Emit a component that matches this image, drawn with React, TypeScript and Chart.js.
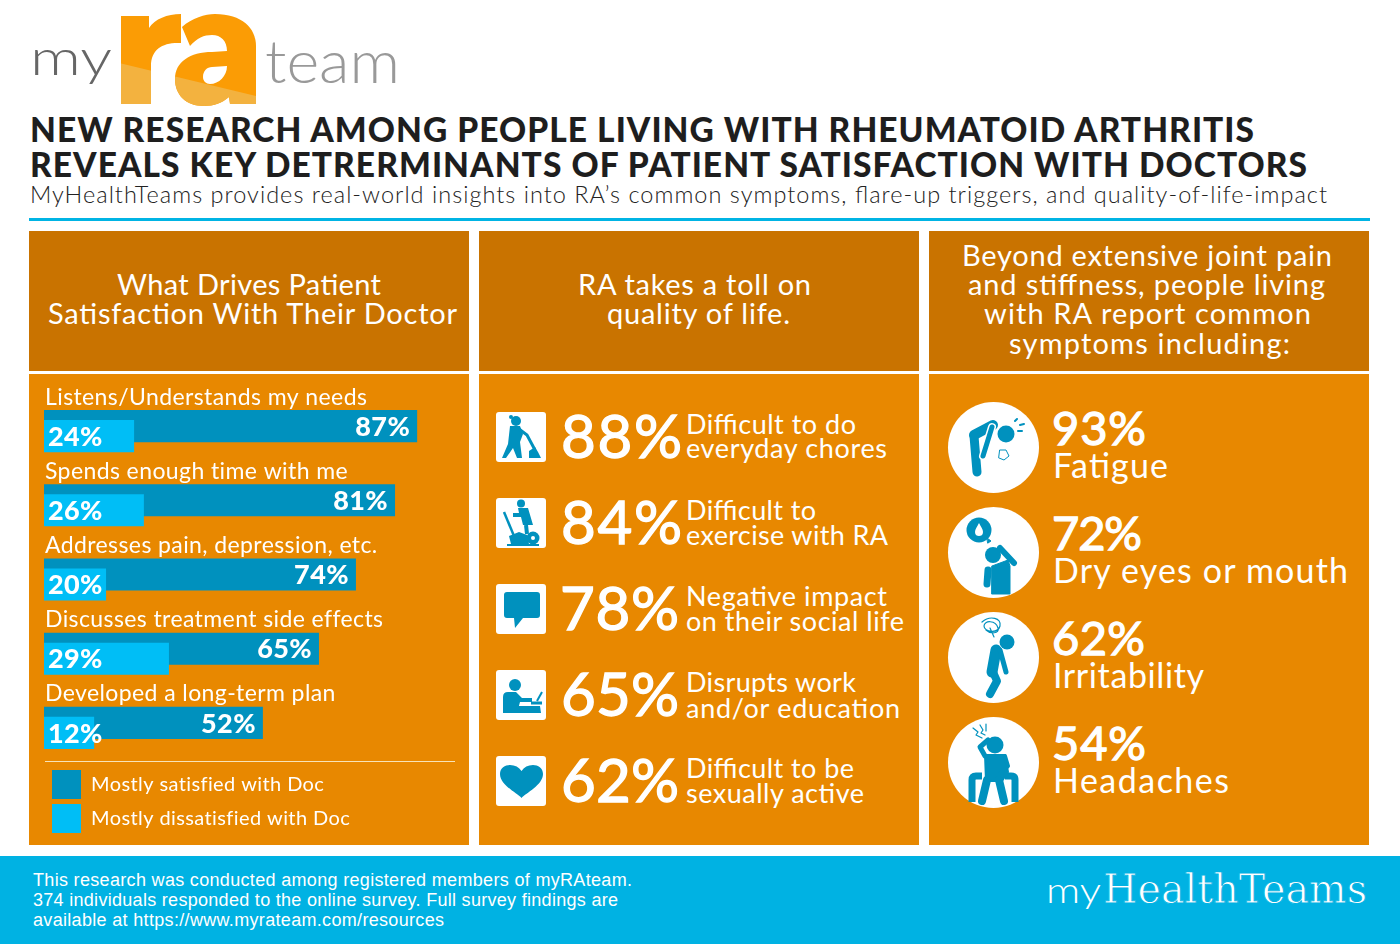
import React, { useEffect, useRef } from "react";
import { Chart, registerables } from "chart.js";

Chart.register(...registerables);

// Chart data: bar lengths are read from the picture's drawn extents (the infographic's bars
// are hand placed and not strictly proportional to their printed percentages), so the
// printed percentages are kept apart as labels.
const categories = [
  "Listens/Understands my needs",
  "Spends enough time with me",
  "Addresses pain, depression, etc.",
  "Discusses treatment side effects",
  "Developed a long-term plan",
];
const satisfiedBars = [87.8, 82.6, 73.4, 64.7, 51.5];
const dissatisfiedBars = [21.2, 23.5, 14.6, 29.4, 11.8];
const satisfiedLabels = ["87%", "81%", "74%", "65%", "52%"];
const dissatisfiedLabels = ["24%", "26%", "20%", "29%", "12%"];
const seriesNames = ["Mostly satisfied with Doc", "Mostly dissatisfied with Doc"];

const SAT = "#0091BE";
const DIS = "#00BEF6";
const FOOT = "#00B2E3";
const FONT = "Lato, 'Noto Sans', sans-serif";

type T = [string, number, number, number]; // text, x, end x, baseline

const headerLines: T[] = [
  ["What Drives Patient", 117, 381, 295],
  ["Satisfaction With Their Doctor", 48, 457, 324],
  ["RA takes a toll on", 578, 811, 295],
  ["quality of life.", 607, 790, 324],
  ["Beyond extensive joint pain", 962, 1332, 266],
  ["and stiffness, people living", 968, 1325, 295],
  ["with RA report common", 984, 1311, 324],
  ["symptoms including:", 1009, 1290, 354],
];
const qualityPct: T[] = [
  ["88%", 561, 682, 458],
  ["84%", 561, 682, 544],
  ["78%", 560, 679, 630],
  ["65%", 561, 679, 716],
  ["62%", 561, 679, 802],
];
const qualityText: T[] = [
  ["Difficult to do", 686, 856, 434],
  ["everyday chores", 686, 887, 458],
  ["Difficult to", 686, 816, 520],
  ["exercise with RA", 686, 888, 545],
  ["Negative impact", 686, 887, 606],
  ["on their social life", 686, 904, 631],
  ["Disrupts work", 686, 856, 692],
  ["and/or education", 686, 900, 718],
  ["Difficult to be", 686, 854, 778],
  ["sexually active", 686, 864, 803],
];
const symptomPct: T[] = [
  ["93%", 1052, 1146, 445],
  ["72%", 1052, 1142, 550],
  ["62%", 1052, 1145, 655],
  ["54%", 1052, 1146, 760],
];
const symptomText: T[] = [
  ["Fatigue", 1053, 1168, 478],
  ["Dry eyes or mouth", 1053, 1348, 583],
  ["Irritability", 1053, 1204, 688],
  ["Headaches", 1053, 1229, 793],
];
const footerLines: T[] = [
  ["This research was conducted among registered members of myRAteam.", 33, 632, 886],
  ["374 individuals responded to the online survey. Full survey findings are", 33, 618, 906],
  ["available at https://www.myrateam.com/resources", 33, 444, 926],
];
const iconTops = [412, 498, 584, 670, 756];
const circleYs = [447.5, 552.5, 657.5, 762.5];

function Txt({ t, size, weight = 400, fill = "#fff", family = FONT, glyphs = false, stroke, strokeWidth }: { t: T; size: number; weight?: number; fill?: string; family?: string; glyphs?: boolean; stroke?: string; strokeWidth?: number }) {
  return (
    <text x={t[1]} y={t[3]} textLength={t[2] - t[1]} lengthAdjust={glyphs ? "spacingAndGlyphs" : "spacing"} fontSize={size} fontWeight={weight} fill={fill} fontFamily={family} stroke={stroke} strokeWidth={strokeWidth}>
      {t[0]}
    </text>
  );
}

const percentPlugin = {
  id: "percentLabels",
  afterLayout(chart: any) {
    chart.legend.left += 3;
  },
  beforeDraw(chart: any) {
    chart.ctx.letterSpacing = "0.4px";
  },
  afterDatasetsDraw(chart: any) {
    const ctx = chart.ctx;
    ctx.save();
    ctx.fillStyle = "#fff";
    ctx.font = `900 27px ${FONT}`;
    ctx.textBaseline = "middle";
    chart.getDatasetMeta(0).data.forEach((bar: any, i: number) => {
      ctx.textAlign = "right";
      ctx.fillText(satisfiedLabels[i], bar.x - 7, bar.y + 1);
    });
    chart.getDatasetMeta(1).data.forEach((bar: any, i: number) => {
      ctx.textAlign = "left";
      ctx.fillText(dissatisfiedLabels[i], bar.base + 4, bar.y + 1);
    });
    ctx.restore();
  },
};

function BarsChart() {
  const ref = useRef<HTMLCanvasElement>(null);
  useEffect(() => {
    const chart = new Chart(ref.current!, {
      type: "bar",
      data: {
        labels: categories,
        datasets: [
          { label: seriesNames[0], data: satisfiedBars, backgroundColor: SAT, borderWidth: 0, order: 1 },
          { label: seriesNames[1], data: dissatisfiedBars, backgroundColor: DIS, borderWidth: 0, order: 0 },
        ],
      },
      plugins: [percentPlugin],
      options: {
        animation: false,
        responsive: false,
        indexAxis: "y",
        // Slots of 10px widened to 32px make the series overlap with a 10px step; the negative
        // signs put the series drawn on top (order 0) on the lower side of each category.
        categoryPercentage: -20 / 74,
        barPercentage: -3.2,
        layout: { padding: { left: 15, right: 0, top: 20, bottom: 2 } },
        scales: {
          x: { display: false, min: 0, max: 100 },
          y: {
            afterFit: (s: any) => { s.width = 0; },
            grid: { display: false, drawTicks: false },
            border: { display: false },
            ticks: {
              mirror: true,
              padding: 1,
              labelOffset: -34,
              autoSkip: false,
              color: "#fff",
              font: { family: FONT, size: 23, weight: "400" },
            },
          },
        },
        plugins: {
          tooltip: { enabled: false },
          title: { display: false },
          legend: {
            position: "bottom",
            align: "start",
            labels: {
              boxWidth: 29,
              boxHeight: 29,
              padding: 5,
              color: "#fff",
              font: { family: FONT, size: 20, weight: "400" },
              sort: (a: any, b: any) => a.datasetIndex - b.datasetIndex,
            },
          },
        },
      } as any,
    });
    return () => chart.destroy();
  }, []);
  return <canvas ref={ref} width={440} height={471} style={{ position: "absolute", left: 29, top: 374, display: "block" }} />;
}

function Logo() {
  const r = "M121,16 L149,16 L149,28 C155,19 167,14 181,14 L181,43 C163,42 151,49 151,66 L151,104 L121,104 Z";
  const a = "M182,27 C192,18 205,14 215,14 C242,14 256,28 256,46 L256,104 L230,104 L229,97 C222,103 214,106 204,106 C186,106 175,95 175,79 C175,62 190,52 212,52 L227,51 C227,41 221,35 212,35 C204,35 197,38 190,46 Z M227,66 L212,67 C207,67 203,71 203,77 C203,81 206,84 210,84 C219,84 227,76 227,66 Z";
  return (
    <g>
      <defs>
        <clipPath id="raLow"><polygon points="115,62 260,97 260,112 115,112" /></clipPath>
      </defs>
      <path d={r} fill="#FB9C05" />
      <path d={a} fill="#FB9C05" fillRule="evenodd" />
      <g clipPath="url(#raLow)">
        <path d={r} fill="#F3B23F" />
        <path d={a} fill="#F3B23F" fillRule="evenodd" />
      </g>
      <Txt t={["my", 30, 112, 75]} size={50} weight={300} fill="#666" glyphs />
      <Txt t={["team", 265, 400, 83]} size={60} weight={300} fill="#999" glyphs />
    </g>
  );
}

function QualityIcons() {
  return (
    <g fill={SAT}>
      {iconTops.map((y) => <rect key={y} x={496} y={y} width={50} height={50} rx={3} fill="#fff" />)}
      <g transform="translate(496,412)">
        <circle cx={20} cy={9} r={5} />
        <circle cx={15} cy={5} r={2} />
        <path d="M14,14 L24,14 L27,22 L24,30 L26,46 L21,46 L17,36 L10,46 L6,46 L12,32 Z" />
        <path d="M23,17 L31,23 L39,38" fill="none" stroke={SAT} strokeWidth={3} />
        <path d="M33,46 L33,39 L39,35 L42,40 L45,46 Z" />
      </g>
      <g transform="translate(496,498)">
        <circle cx={25} cy={5.5} r={4} />
        <path d="M22,10 L32,10 L37,27 L27,27 L25,19 L17,19 L17,15 L23,15 Z" />
        <path d="M8,14 L18,38" fill="none" stroke={SAT} strokeWidth={2.5} />
        <path d="M30,27 L31,36" fill="none" stroke={SAT} strokeWidth={4} />
        <path d="M13,38 L23,34 L31,37 L33,46 L15,46 Z" />
        <circle cx={37} cy={40} r={6.5} />
        <circle cx={37} cy={40} r={2} fill="#fff" />
        <path d="M11,47 L43,47" stroke={SAT} strokeWidth={2} />
      </g>
      <path transform="translate(496,584)" d="M11,8 L41,8 Q44,8 44,11 L44,31 Q44,34 41,34 L27,34 L19,44 L18,34 L11,34 Q8,34 8,31 L8,11 Q8,8 11,8 Z" />
      <g transform="translate(496,670)">
        <circle cx={19} cy={15} r={6} />
        <path d="M12,22 L20,22 L26,28 L36,28 L36,32 L24,32 L21,43 L7,43 L7,27 Q7,22 12,22 Z" />
        <path d="M35,33 L46,33" stroke={SAT} strokeWidth={3} />
        <path d="M41,31 L46,22" stroke={SAT} strokeWidth={2} />
        <path d="M21,36 L44,36 L45,43 L21,43 Z" />
      </g>
      <path transform="translate(496,756)" d="M25.5,42 C21,37 4,29 4,18 C4,12 9,9 14,9 C19,9 23,11 25.5,15 C28,11 32,9 37,9 C42,9 47,12 47,18 C47,29 30,37 25.5,42 Z" />
    </g>
  );
}

function SymptomIcons() {
  return (
    <g>
      {circleYs.map((y) => <circle key={y} cx={993.5} cy={y} r={45.5} fill="#fff" />)}
      <g fill={SAT} stroke={SAT} strokeLinecap="round" strokeLinejoin="round">
        {/* fatigue */}
        <circle cx={1006} cy={434} r={8.5} stroke="none" />
        <path d="M974,435 L993,425" fill="none" strokeWidth={10} />
        <path d="M974,436 L977,472" fill="none" strokeWidth={9} />
        <path d="M992,427 L983,456" fill="none" strokeWidth={8} stroke="#fff" />
        <path d="M992,427 L983,456" fill="none" strokeWidth={5} />
        <path d="M1015,421 L1017,419 M1020,425 L1024,424 M1018,431 L1022,431" fill="none" strokeWidth={2} />
        <path d="M1000,450 L1006,450 L1009,456 L1004,460 L999,458 Z" fill="none" strokeWidth={1} />
        {/* dry eyes */}
        <circle cx={979} cy={530} r={12.5} stroke="none" />
        <path d="M987,538 L991,541 L988,543 Z" strokeWidth={1} />
        <path d="M979,523 C977,527 975,529 975,532 C975,535 977,536 979,536 C981,536 983,535 983,532 C983,529 981,527 979,523 Z" fill="#fff" stroke="none" />
        <circle cx={993} cy={555} r={8} stroke="none" />
        <path d="M992,566 L1008,560 L1010,566 L1010,594 L992,594 Z" strokeWidth={1} />
        <path d="M1014,563 L1000,548" fill="none" strokeWidth={6} />
        <path d="M988,570 L987,584" fill="none" strokeWidth={7} />
        {/* irritability */}
        <circle cx={1007} cy={642} r={7.5} stroke="none" />
        <path d="M996,650 L992,672" fill="none" strokeWidth={11} />
        <path d="M1000,650 L1006,672" fill="none" strokeWidth={5} />
        <path d="M993,672 L997,681 L990,694" fill="none" strokeWidth={8} />
        <path d="M982,622 C990,615 1002,618 1000,626 C998,634 984,632 984,626 C984,620 996,620 998,628 C1000,634 990,634 986,630 M990,628 L994,637" fill="none" strokeWidth={1.2} />
        {/* headaches */}
        <circle cx={995} cy={745} r={8.5} stroke="none" />
        <path d="M985,755 L1005,755 L1008,772 L1002,781 L986,781 Z" strokeWidth={2} />
        <path d="M985,756 L980,747 L988,740" fill="none" strokeWidth={5} />
        <path d="M1005,756 L1008,766 L1001,773" fill="none" strokeWidth={4} />
        <path d="M987,780 L982,801 M999,780 L1004,801" fill="none" strokeWidth={8} />
        <path d="M972,802 L972,780 Q972,776 976,776 L982,776 M1015,802 L1015,780 Q1015,776 1011,776 L1005,776" fill="none" strokeWidth={7} strokeLinecap="butt" />
        <path d="M973,728 L978,732 L976,735 L982,738 M980,725 L983,730 L981,733 L985,735 M986,724 L986,731" fill="none" strokeWidth={1.2} />
      </g>
    </g>
  );
}

export default function App() {
  return (
    <div style={{ position: "absolute", left: 0, top: 0, width: 1400, height: 944, background: "#fff", overflow: "hidden" }}>
      <svg width={1400} height={944} style={{ position: "absolute", left: 0, top: 0, display: "block" }}>
        <Logo />
        <Txt t={["NEW RESEARCH AMONG PEOPLE LIVING WITH RHEUMATOID ARTHRITIS", 30, 1254, 142]} size={33.5} weight={900} fill="#1e1e1e" />
        <Txt t={["REVEALS KEY DETRERMINANTS OF PATIENT SATISFACTION WITH DOCTORS", 30, 1307, 177]} size={33.5} weight={900} fill="#1e1e1e" />
        <Txt t={["MyHealthTeams provides real-world insights into RA’s common symptoms, flare-up triggers, and quality-of-life-impact", 30, 1327, 203]} size={23.5} weight={300} fill="#222" />
        <rect x={29} y={218} width={1341} height={3} fill="#00B4E4" />
        {[29, 479, 929].map((x) => (
          <g key={x}>
            <rect x={x} y={231} width={440} height={140} fill="#C97300" />
            <rect x={x} y={374} width={440} height={471} fill="#E88800" />
          </g>
        ))}
        <rect x={0} y={856} width={1400} height={88} fill={FOOT} />
        {headerLines.map((t) => <Txt key={t[0]} t={t} size={29} />)}
        <QualityIcons />
        {qualityPct.map((t) => <Txt key={t[0]} t={t} size={60} stroke="#fff" strokeWidth={1.3} />)}
        {qualityText.map((t) => <Txt key={t[0]} t={t} size={27} />)}
        <SymptomIcons />
        {symptomPct.map((t) => <Txt key={t[0]} t={t} size={47} stroke="#fff" strokeWidth={1.3} />)}
        {symptomText.map((t) => <Txt key={t[0]} t={t} size={34} />)}
        {footerLines.map((t) => <Txt key={t[0]} t={t} size={18} family="'Liberation Sans', Arial, sans-serif" />)}
        <Txt t={["my", 1046, 1101, 903]} size={36} weight={300} glyphs />
        <Txt t={["HealthTeams", 1103, 1367, 903]} size={41} family="'DejaVu Serif', serif" stroke={FOOT} strokeWidth={0.9} glyphs />
      </svg>
      <BarsChart />
      <div style={{ position: "absolute", left: 45, top: 761, width: 410, height: 1, background: "#F8E3B8" }} />
    </div>
  );
}
